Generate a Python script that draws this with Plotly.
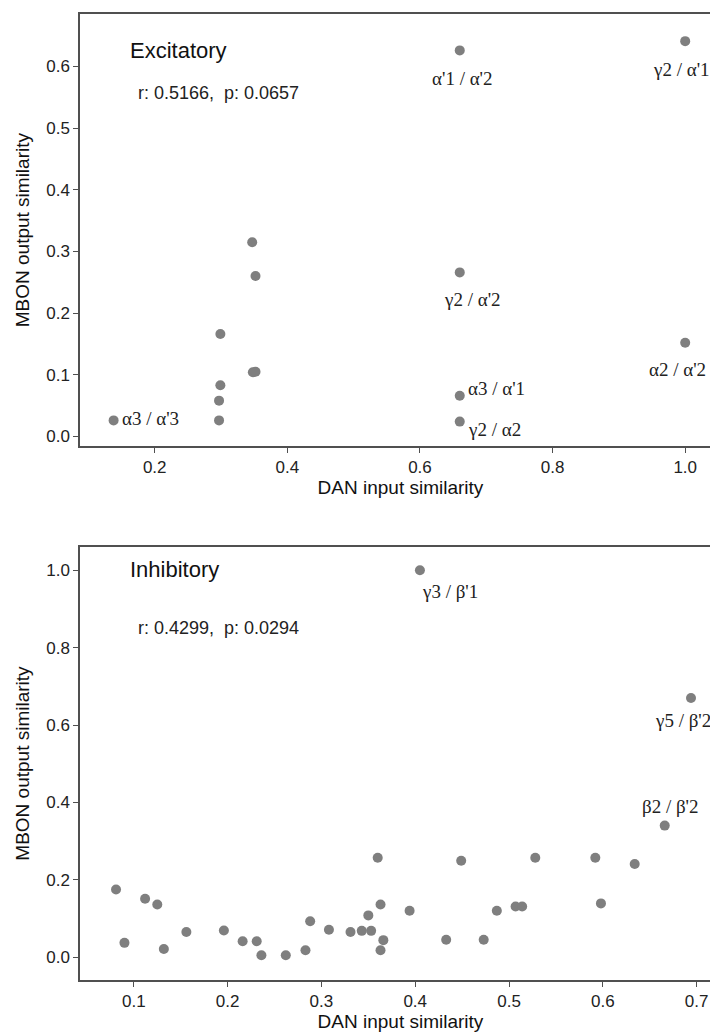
import plotly.graph_objects as go

# ---------------- data ----------------
exc_x = [0.660, 1.000, 0.347, 0.352, 0.660, 0.299, 1.000, 0.348, 0.352, 0.299, 0.660, 0.297, 0.297, 0.138, 0.660]
exc_y = [0.626, 0.641, 0.315, 0.260, 0.266, 0.166, 0.152, 0.104, 0.105, 0.083, 0.066, 0.058, 0.026, 0.026, 0.024]
exc_lab = ["α'1 / α'2", "γ2 / α'1", "", "", "γ2 / α'2", "", "α2 / α'2", "", "", "", "α3 / α'1", "", "", "α3 / α'3", "γ2 / α2"]

inh_x = [0.405, 0.694, 0.666, 0.081, 0.090, 0.112, 0.125, 0.132, 0.156, 0.196, 0.216, 0.231, 0.236,
         0.262, 0.283, 0.288, 0.308, 0.331, 0.343, 0.353, 0.350, 0.360, 0.363, 0.366, 0.363,
         0.394, 0.433, 0.449, 0.473, 0.487, 0.507, 0.514, 0.528, 0.592, 0.598, 0.634]
inh_y = [1.000, 0.670, 0.340, 0.175, 0.037, 0.151, 0.136, 0.021, 0.065, 0.069, 0.041, 0.041, 0.005,
         0.005, 0.018, 0.093, 0.071, 0.065, 0.068, 0.068, 0.108, 0.257, 0.136, 0.044, 0.018,
         0.120, 0.045, 0.249, 0.045, 0.120, 0.131, 0.131, 0.257, 0.257, 0.139, 0.241]
inh_lab = ["γ3 / β'1", "γ5 / β'2", "β2 / β'2"] + [""] * 33

exc_stats = "r: 0.5166,  p: 0.0657"
inh_stats = "r: 0.4299,  p: 0.0294"

# label placement (style only): xanchor, xshift, yshift
exc_place = {
    "α'1 / α'2": ("center", 3, -28),
    "γ2 / α'1": ("center", -4, -28),
    "γ2 / α'2": ("center", 13, -27),
    "α2 / α'2": ("center", -8, -27),
    "α3 / α'1": ("left", 6, 7),
    "γ2 / α2": ("left", 6, -8),
    "α3 / α'3": ("left", 6, 2),
}
inh_place = {
    "γ3 / β'1": ("center", 30, -21),
    "γ5 / β'2": ("center", -8, -23),
    "β2 / β'2": ("center", 6, 19),
}

AX = "#505050"
MK = "#7f7f7f"
SANS = "Liberation Sans, Arial, sans-serif"
SERIF = "Liberation Serif, Times New Roman, serif"

fig = go.Figure()
fig.add_trace(go.Scatter(x=exc_x, y=exc_y, mode="markers", xaxis="x", yaxis="y",
                         marker=dict(color=MK, size=10), showlegend=False))
fig.add_trace(go.Scatter(x=inh_x, y=inh_y, mode="markers", xaxis="x2", yaxis="y2",
                         marker=dict(color=MK, size=10), showlegend=False))

ann = []
for x, y, t in zip(exc_x, exc_y, exc_lab):
    if t:
        xa, xs, ys = exc_place[t]
        ann.append(dict(x=x, y=y, xref="x", yref="y", text=t, showarrow=False,
                        xanchor=xa, yanchor="middle", xshift=xs, yshift=ys,
                        font=dict(family=SERIF, size=19, color="#222")))
for x, y, t in zip(inh_x, inh_y, inh_lab):
    if t:
        xa, xs, ys = inh_place[t]
        ann.append(dict(x=x, y=y, xref="x2", yref="y2", text=t, showarrow=False,
                        xanchor=xa, yanchor="middle", xshift=xs, yshift=ys,
                        font=dict(family=SERIF, size=19, color="#222")))

# panel titles and stats (positioned in axis-domain coordinates)
ann += [
    dict(x=0.075, y=0.915, xref="x domain", yref="y domain", text="Excitatory", showarrow=False,
         xanchor="left", yanchor="middle", font=dict(family=SANS, size=22, color="#111")),
    dict(x=0.088, y=0.818, xref="x domain", yref="y domain", text=exc_stats, showarrow=False,
         xanchor="left", yanchor="middle", font=dict(family=SANS, size=18, color="#222")),
    dict(x=0.075, y=0.948, xref="x2 domain", yref="y2 domain", text="Inhibitory", showarrow=False,
         xanchor="left", yanchor="middle", font=dict(family=SANS, size=22, color="#111")),
    dict(x=0.088, y=0.814, xref="x2 domain", yref="y2 domain", text=inh_stats, showarrow=False,
         xanchor="left", yanchor="middle", font=dict(family=SANS, size=18, color="#222")),
]

axis_common = dict(showline=True, linecolor=AX, linewidth=1.5, mirror=True, showgrid=False,
                   zeroline=False, ticks="outside", ticklen=5, tickcolor=AX, tickwidth=1.2,
                   automargin=False,
                   tickfont=dict(family=SANS, size=17, color="#222"), tickformat=".1f")

fig.update_layout(
    width=718, height=1033,
    margin=dict(l=72, r=5, t=6, b=61),
    paper_bgcolor="white", plot_bgcolor="white",
    annotations=ann,
    xaxis=dict(axis_common, domain=[0, 1], anchor="y", range=[0.0873, 1.054], dtick=0.2,
               title=dict(text="DAN input similarity", standoff=3,
                          font=dict(family=SANS, size=19, color="#111"))),
    yaxis=dict(axis_common, domain=[0.5525, 1.0], anchor="x", range=[-0.016, 0.685], dtick=0.1,
               title=dict(text="MBON output similarity", standoff=12,
                          font=dict(family=SANS, size=19, color="#111"))),
    xaxis2=dict(axis_common, domain=[0, 1], anchor="y2", range=[0.0426, 0.726], dtick=0.1,
                title=dict(text="DAN input similarity", standoff=1,
                           font=dict(family=SANS, size=19, color="#111"))),
    yaxis2=dict(axis_common, domain=[0.0, 0.4482], anchor="x2", range=[-0.059, 1.060], dtick=0.2,
                title=dict(text="MBON output similarity", standoff=12,
                           font=dict(family=SANS, size=19, color="#111"))),
)

fig.write_html("out.html")
